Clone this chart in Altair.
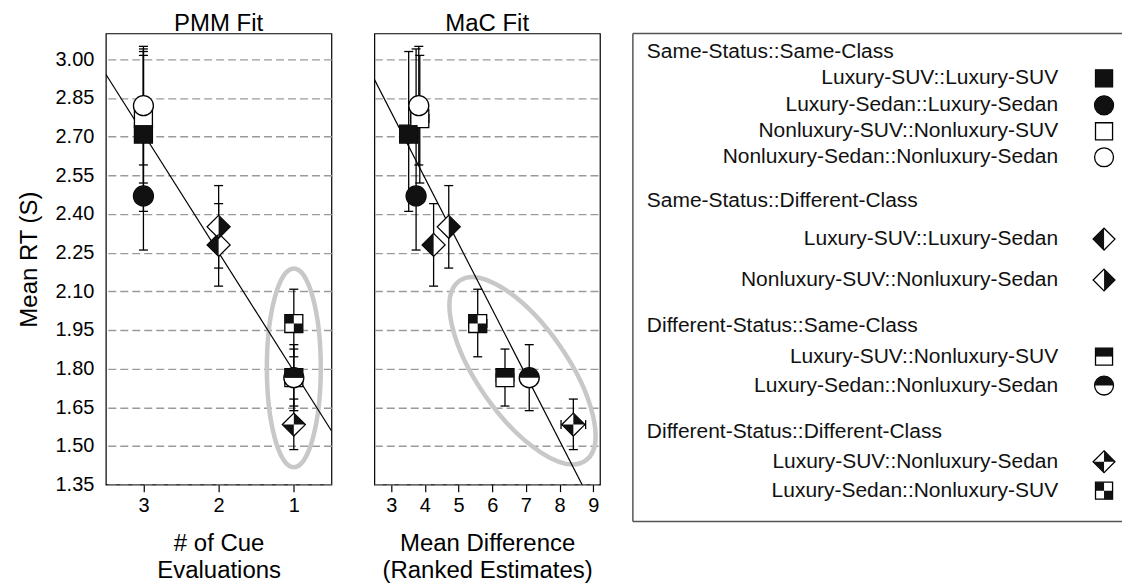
import altair as alt
import pandas as pd

# ---------------- data ----------------
series = [
    "Luxury-SUV::Luxury-SUV",
    "Luxury-Sedan::Luxury-Sedan",
    "Nonluxury-SUV::Nonluxury-SUV",
    "Nonluxury-Sedan::Nonluxury-Sedan",
    "Luxury-SUV::Luxury-Sedan",
    "Nonluxury-SUV::Nonluxury-Sedan",
    "Luxury-SUV::Nonluxury-SUV",
    "Luxury-Sedan::Nonluxury-Sedan",
    "Luxury-SUV::Nonluxury-Sedan",
    "Luxury-Sedan::Nonluxury-SUV",
]
group_names = [
    "Same-Status::Same-Class",
    "Same-Status::Different-Class",
    "Different-Status::Same-Class",
    "Different-Status::Different-Class",
]
series_group = [0, 0, 0, 0, 1, 1, 2, 2, 3, 3]
marker_kind = ["sq_full", "ci_full", "sq_open", "ci_open", "di_left",
               "di_right", "sq_top", "ci_top", "di_quart", "sq_check"]

cue_evals = [3, 3, 3, 3, 2, 2, 1, 1, 1, 1]
mean_diff = [3.52, 3.74, 3.85, 3.82, 4.26, 4.71, 6.38, 7.10, 8.41, 5.57]
mean_diff_err = [0.15, 0.15, 0.27, 0.25, 0.20, 0.20, 0.26, 0.20, 0.365, 0.27]
mean_rt = [2.71, 2.47, 2.77, 2.82, 2.28, 2.35, 1.765, 1.765, 1.583, 1.975]
rt_low = [2.41, 2.26, 2.52, 2.59, 2.12, 2.19, 1.655, 1.637, 1.486, 1.846]
rt_high = [3.03, 3.04, 3.015, 3.05, 2.44, 2.51, 1.876, 1.893, 1.682, 2.108]

pmm_fit_x = [3.5, 0.5]
pmm_fit_y = [2.942, 1.559]
mac_fit_x = [2.5, 9.2]
mac_fit_y = [2.922, 1.215]

pmm_cluster = [1.0, 1.803]
mac_cluster = [6.90, 1.792]

rt_ticks = [1.35, 1.50, 1.65, 1.80, 1.95, 2.10, 2.25, 2.40, 2.55, 2.70, 2.85, 3.00]
pmm_ticks = [3, 2, 1]
mac_ticks = [3, 4, 5, 6, 7, 8, 9]

# ---------------- styles / layout ----------------
FONT = "Liberation Sans"
PW, PH = 226, 452
LW, LH = 490, 490
K = 0.5523
S = 9 / 11.5
R = 10 / 11.5
MSIZE = 23 ** 2


def f(v):
    return f"{v:.4f}"


def ellipse_path(a, b):
    return (f"M {f(a)} 0 C {f(a)} {f(K*b)} {f(K*a)} {f(b)} 0 {f(b)} "
            f"C {f(-K*a)} {f(b)} {f(-a)} {f(K*b)} {f(-a)} 0 "
            f"C {f(-a)} {f(-K*b)} {f(-K*a)} {f(-b)} 0 {f(-b)} "
            f"C {f(K*a)} {f(-b)} {f(a)} {f(-K*b)} {f(a)} 0 Z")


SQ = f"M {f(-S)} {f(-S)} L {f(S)} {f(-S)} L {f(S)} {f(S)} L {f(-S)} {f(S)} Z"
CI = ellipse_path(R, R)
DI = "M 0 -1 L 1 0 L 0 1 L -1 0 Z"
outline = {"sq_full": SQ, "ci_full": CI, "sq_open": SQ, "ci_open": CI,
           "di_left": DI, "di_right": DI, "sq_top": SQ, "ci_top": CI,
           "di_quart": DI, "sq_check": SQ}
black = {
    "sq_full": SQ,
    "ci_full": CI,
    "di_left": "M 0 -1 L -1 0 L 0 1 Z",
    "di_right": "M 0 -1 L 1 0 L 0 1 Z",
    "sq_top": f"M {f(-S)} {f(-S)} L {f(S)} {f(-S)} L {f(S)} 0 L {f(-S)} 0 Z",
    "ci_top": (f"M {f(-R)} 0 C {f(-R)} {f(-K*R)} {f(-K*R)} {f(-R)} 0 {f(-R)} "
               f"C {f(K*R)} {f(-R)} {f(R)} {f(-K*R)} {f(R)} 0 Z"),
    "di_quart": "M 0 -1 L 1 0 L 0 0 Z M 0 1 L -1 0 L 0 0 Z",
    "sq_check": (f"M {f(-S)} {f(-S)} L 0 {f(-S)} L 0 0 L {f(-S)} 0 Z "
                 f"M 0 0 L {f(S)} 0 L {f(S)} {f(S)} L 0 {f(S)} Z"),
}
kinds = list(outline.keys())
black_kinds = list(black.keys())
shape_out = alt.Scale(domain=kinds, range=[outline[k] for k in kinds])
shape_blk = alt.Scale(domain=black_kinds, range=[black[k] for k in black_kinds])

GRID = dict(grid=True, gridDash=[8, 4], gridColor="#9a9a9a", gridWidth=1.4)


def make_panel(xvals, xdomain, xreverse, xticks, xtitle, title, fit_x, fit_y,
               cluster, cl_path, cl_size, cl_angle, show_y, xerr=None):
    xaxis = alt.Axis(values=xticks, format="d", tickSize=7, tickColor="black",
                     tickWidth=1.2, domain=False, grid=False, labelFontSize=20,
                     labelFont=FONT, labelColor="black", labelPadding=4,
                     titleFontSize=24, titleFont=FONT, titleFontWeight="normal",
                     titleColor="black", titlePadding=16, titleLineHeight=27)
    if show_y:
        yaxis = alt.Axis(values=rt_ticks, format=".2f", ticks=False, tickSize=0,
                         domain=False, labelFontSize=20, labelFont=FONT,
                         labelColor="black", labelPadding=12, titleFontSize=24,
                         titleFont=FONT, titleFontWeight="normal",
                         titleColor="black", titlePadding=14, **GRID)
        ytitle = "Mean RT (S)"
    else:
        yaxis = alt.Axis(values=rt_ticks, labels=False, ticks=False,
                         domain=False, **GRID)
        ytitle = None
    xs = alt.Scale(domain=xdomain, reverse=xreverse, nice=False, zero=False)
    ys = alt.Scale(domain=[1.35, 3.10], nice=False, zero=False)

    def X(fld):
        return alt.X(f"{fld}:Q", scale=xs, axis=xaxis, title=xtitle)

    def Y(fld):
        return alt.Y(f"{fld}:Q", scale=ys, axis=yaxis, title=ytitle)

    df = pd.DataFrame({"x": xvals, "y": mean_rt, "lo": rt_low, "hi": rt_high,
                       "kind": marker_kind})
    caps = pd.concat([pd.DataFrame({"x": xvals, "y": rt_low}),
                      pd.DataFrame({"x": xvals, "y": rt_high})])
    fit = pd.DataFrame({"x": fit_x, "y": fit_y})
    cl = pd.DataFrame({"x": [cluster[0]], "y": [cluster[1]]})

    layers = [
        alt.Chart(cl).mark_point(shape=cl_path, size=cl_size, angle=cl_angle,
                                 filled=False, stroke="#c8c8c8", strokeWidth=4.5,
                                 opacity=1, clip=True)
        .encode(x=X("x"), y=Y("y")),
        alt.Chart(fit).mark_line(color="black", strokeWidth=1.2, clip=True)
        .encode(x=X("x"), y=Y("y")),
        alt.Chart(df).mark_rule(color="black", strokeWidth=1.3)
        .encode(x=X("x"), y=Y("lo"), y2="hi"),
        alt.Chart(caps).mark_point(shape="M -1 0 L 1 0", size=81, filled=False,
                                   stroke="black", strokeWidth=1.3, opacity=1)
        .encode(x=X("x"), y=Y("y")),
    ]
    if xerr is not None:
        hx = pd.DataFrame({"xl": [a - e for a, e in zip(xvals, xerr)],
                           "xh": [a + e for a, e in zip(xvals, xerr)],
                           "y": mean_rt})
        hcaps = pd.concat([pd.DataFrame({"x": hx["xl"], "y": mean_rt}),
                           pd.DataFrame({"x": hx["xh"], "y": mean_rt})])
        layers += [
            alt.Chart(hx).mark_rule(color="black", strokeWidth=1.3)
            .encode(x=X("xl"), x2="xh", y=Y("y")),
            alt.Chart(hcaps).mark_point(shape="M 0 -1 L 0 1", size=81,
                                        filled=False, stroke="black",
                                        strokeWidth=1.3, opacity=1)
            .encode(x=X("x"), y=Y("y")),
        ]
    layers += [
        alt.Chart(df).mark_point(filled=True, fill="white", stroke="black",
                                 strokeWidth=1.3, size=MSIZE, opacity=1)
        .encode(x=X("x"), y=Y("y"),
                shape=alt.Shape("kind:N", scale=shape_out, legend=None)),
        alt.Chart(df[df["kind"].isin(black_kinds)])
        .mark_point(filled=True, fill="#111111", strokeWidth=0, size=MSIZE,
                    opacity=1)
        .encode(x=X("x"), y=Y("y"),
                shape=alt.Shape("kind:N", scale=shape_blk, legend=None)),
    ]
    return alt.layer(*layers).resolve_scale(shape="independent").properties(
        width=PW, height=PH,
        title=alt.TitleParams(title, fontSize=24, font=FONT,
                              fontWeight="normal", color="black", offset=-3))


pmm = make_panel(cue_evals, [0.5, 3.5], True, pmm_ticks,
                 ["# of Cue", "Evaluations"], "PMM Fit", pmm_fit_x, pmm_fit_y,
                 pmm_cluster, ellipse_path(27 / 99.5, 1), (2 * 99.5) ** 2, 0,
                 True)
mac = make_panel(mean_diff, [2.5, 9.2], False, mac_ticks,
                 ["Mean Difference", "(Ranked Estimates)"], "MaC Fit",
                 mac_fit_x, mac_fit_y, mac_cluster, ellipse_path(1, 45 / 110),
                 220 ** 2, 55, False, xerr=mean_diff_err)

# ---------------- custom legend ----------------
PX0 = 631            # page x of legend panel left
PY0 = 34             # page y of legend panel top (= plot frame top)
box_top, box_bottom = 34 - PY0, 523 - PY0
header_x, text_right, icon_x = 645 - PX0, 1057 - PX0, 1103 - PX0
header_y = [52.7, 201.7, 326.7, 433]
item_y = [79, 106, 132, 158, 240, 281, 357.7, 386.7, 463, 492]

lx = alt.Scale(domain=[0, LW], nice=False, zero=False)
lyS = alt.Scale(domain=[0, LH], reverse=True, nice=False, zero=False)


def LX(fld):
    return alt.X(f"{fld}:Q", scale=lx, axis=None)


def LY(fld):
    return alt.Y(f"{fld}:Q", scale=lyS, axis=None)


box = pd.DataFrame({"x": [0, 0, 0], "x2": [LW, LW, 0],
                    "y": [box_top, box_bottom, box_top],
                    "y2": [box_top, box_bottom, box_bottom]})
hdr = pd.DataFrame({"t": group_names, "x": [header_x] * 4,
                    "y": [v - PY0 for v in header_y]})
items = pd.DataFrame({"t": series, "x": [text_right] * 10,
                      "ix": [icon_x] * 10,
                      "y": [v - PY0 for v in item_y], "kind": marker_kind,
                      "g": series_group})

legend = alt.layer(
    alt.Chart(box).mark_rule(color="#555555", strokeWidth=1.5)
    .encode(x=LX("x"), x2="x2", y=LY("y"), y2="y2"),
    alt.Chart(hdr).mark_text(align="left", baseline="middle", fontSize=21,
                             font=FONT, color="#111111")
    .encode(x=LX("x"), y=LY("y"), text="t:N"),
    alt.Chart(items).mark_text(align="right", baseline="middle", fontSize=21,
                               font=FONT, color="#111111")
    .encode(x=LX("x"), y=LY("y"), text="t:N"),
    alt.Chart(items).mark_point(filled=True, fill="white", stroke="black",
                                strokeWidth=1.3, size=MSIZE * 0.9, opacity=1)
    .encode(x=LX("ix"), y=LY("y"),
            shape=alt.Shape("kind:N", scale=shape_out, legend=None)),
    alt.Chart(items[items["kind"].isin(black_kinds)])
    .mark_point(filled=True, fill="#111111", strokeWidth=0, size=MSIZE * 0.9,
                opacity=1)
    .encode(x=LX("ix"), y=LY("y"),
            shape=alt.Shape("kind:N", scale=shape_blk, legend=None)),
).resolve_scale(shape="independent").properties(
    width=LW, height=LH, view=alt.ViewBackground(stroke="transparent"))

chart = alt.hconcat(
    alt.hconcat(pmm, mac, spacing=41),
    legend,
    spacing=30,
).properties(
    padding={"left": 8, "top": 3, "right": 0, "bottom": 0},
    background="white",
).configure_view(stroke="black", strokeWidth=1.2)

chart.save("out.html", embed_options={"renderer": "svg", "actions": False})
